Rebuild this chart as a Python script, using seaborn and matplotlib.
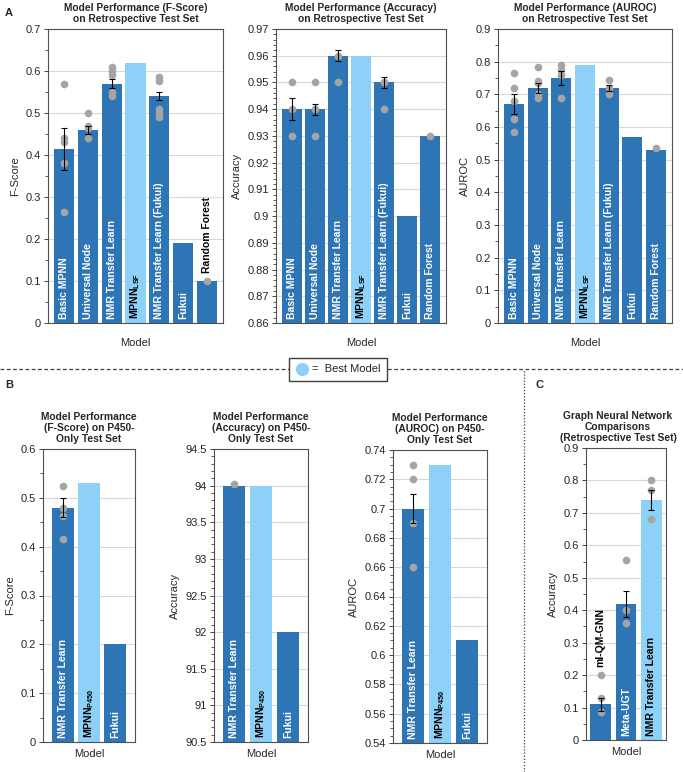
import matplotlib
matplotlib.use("Agg")
import pandas as pd
import matplotlib.pyplot as plt
import matplotlib.ticker as mticker
from matplotlib.lines import Line2D
import seaborn as sns

dark = "#2E75B6"
light = "#8DD0F8"
dot_grey = "#A5A5A5"

sns.set_theme(style="white")
plt.rcParams["font.family"] = ["Liberation Sans", "DejaVu Sans"]
plt.rcParams["mathtext.fontset"] = "custom"
plt.rcParams["mathtext.rm"] = "Liberation Sans"
plt.rcParams["mathtext.bf"] = "Liberation Sans:bold"
plt.rcParams["font.size"] = 7.5


# ---- data ----
retro_models = ["Basic MPNN", "Universal Node", "NMR Transfer Learn", r"MPNN$_\mathbf{LSF}$",
                "NMR Transfer Learn (Fukui)", "Fukui", "Random Forest"]

retro_fscore = [0.415, 0.46, 0.57, 0.62, 0.54, 0.19, 0.10]
retro_fscore_err = [0.05, 0.01, 0.01, 0, 0.01, 0, 0]
retro_fscore_dots = [[0.57, 0.44, 0.43, 0.38, 0.265], [0.50, 0.47, 0.465, 0.44],
                     [0.61, 0.60, 0.59, 0.55, 0.54], [], [0.585, 0.575, 0.51, 0.50, 0.49],
                     [], [0.10]]

retro_acc = [0.94, 0.94, 0.96, 0.96, 0.95, 0.90, 0.93]
retro_acc_err = [0.004, 0.002, 0.002, 0, 0.002, 0, 0]
retro_acc_dots = [[0.95, 0.94, 0.93], [0.95, 0.94, 0.93], [0.96, 0.95], [],
                  [0.95, 0.94], [], [0.93]]

retro_auroc = [0.67, 0.72, 0.75, 0.79, 0.72, 0.57, 0.53]
retro_auroc_err = [0.03, 0.015, 0.02, 0, 0.01, 0, 0]
retro_auroc_dots = [[0.765, 0.72, 0.68, 0.625, 0.585], [0.785, 0.74, 0.735, 0.70, 0.69],
                    [0.79, 0.775, 0.76, 0.69], [], [0.745, 0.72, 0.70], [], [0.535]]

p450_models = ["NMR Transfer Learn", r"MPNN$_\mathbf{P450}$", "Fukui"]

p450_fscore = [0.48, 0.53, 0.20]
p450_fscore_err = [0.02, 0, 0]
p450_fscore_dots = [[0.525, 0.48, 0.462, 0.415], [], []]

p450_acc = [94.0, 94.0, 92.0]
p450_acc_err = [0, 0, 0]
p450_acc_dots = [[94.02], [], []]

p450_auroc = [0.70, 0.73, 0.61]
p450_auroc_err = [0.01, 0, 0]
p450_auroc_dots = [[0.73, 0.72, 0.69, 0.66], [], []]

gnn_models = ["ml-QM-GNN", "Meta-UGT", "NMR Transfer Learn"]
gnn_acc = [0.11, 0.42, 0.74]
gnn_acc_err = [0.02, 0.04, 0.03]
gnn_acc_dots = [[0.20, 0.13, 0.085], [0.555, 0.40, 0.36], [0.80, 0.77, 0.68]]


W, H = 683, 772
fig = plt.figure(figsize=(W / 100, H / 100), dpi=100)


def px_axes(left, right, top, bottom):
    return fig.add_axes([left / W, 1 - bottom / H, (right - left) / W, (bottom - top) / H])


def draw_panel(ax, names, values, errs, dots, best, ylim, major, minor, ylabel, title,
               above=None, width=0.85, xpad=0.68, above_y=None, xpad_label=11, title_x=0.5):
    colors = {n: (light if i == best else dark) for i, n in enumerate(names)}
    sns.barplot(x=names, y=values, hue=names, order=names, hue_order=names,
                palette=colors, legend=False, width=width, saturation=1,
                edgecolor="none", ax=ax, zorder=2)

    # individual runs
    rows = []
    for n, d in zip(names, dots):
        for v in d:
            rows.append({"model": n, "value": v})
    pts = pd.DataFrame(rows)
    sns.stripplot(data=pts, x="model", y="value", order=names, color=dot_grey,
                  jitter=False, size=5.5, linewidth=0, ax=ax, zorder=3)

    xs = [i for i, e in enumerate(errs) if e > 0]
    if xs:
        ax.errorbar(xs, [values[i] for i in xs], yerr=[errs[i] for i in xs], fmt="none",
                    ecolor="black", elinewidth=0.8, capsize=2, capthick=0.8, zorder=4)

    ax.set_ylim(*ylim)
    ax.set_xlim(-xpad, len(names) - 1 + xpad)
    ax.yaxis.set_major_locator(mticker.MultipleLocator(major))
    ax.yaxis.set_minor_locator(mticker.MultipleLocator(minor))
    ax.yaxis.set_major_formatter(mticker.FuncFormatter(lambda v, p: f"{round(v, 6):g}"))
    ax.tick_params(axis="y", which="major", direction="out", length=3, width=0.7,
                   color="#404040", labelsize=8, pad=2, left=True)
    ax.tick_params(axis="y", which="minor", direction="out", length=2, width=0.6,
                   color="#404040", left=True)
    ax.set_xticks([])
    ax.yaxis.grid(True, which="major", color="#D9D9D9", lw=0.8)
    ax.set_axisbelow(True)
    for s in ax.spines.values():
        s.set_color("#505050")
        s.set_linewidth(0.8)
    ax.set_xlabel("Model", fontsize=8, labelpad=xpad_label)
    ax.set_ylabel(ylabel, fontsize=8, labelpad=4)
    ax.set_title(title, fontsize=7.4, fontweight="bold", pad=5, linespacing=1.15, x=title_x)

    y0 = ylim[0] + (ylim[1] - ylim[0]) * 0.015
    for i, n in enumerate(names):
        if above is not None and i in above:
            ax.text(i, above_y[i], n, rotation=90, ha="center", va="bottom",
                    color="black", fontsize=7.5, fontweight="bold", zorder=5)
        else:
            ax.text(i, y0, n, rotation=90, ha="center", va="bottom",
                    color=("black" if i == best else "white"), fontsize=7.5,
                    fontweight="bold", zorder=5, clip_on=True)


# ---- panel A ----
ax1 = px_axes(48, 223, 29, 323)
draw_panel(ax1, retro_models, retro_fscore, retro_fscore_err, retro_fscore_dots, 3,
           (0, 0.7), 0.1, 0.05, "F-Score",
           "Model Performance (F-Score)\non Retrospective Test Set",
           above=[6], above_y={6: 0.118})

ax2 = px_axes(276, 446, 29, 323)
draw_panel(ax2, retro_models, retro_acc, retro_acc_err, retro_acc_dots, 3,
           (0.86, 0.97), 0.01, 0.002, "Accuracy",
           "Model Performance (Accuracy)\non Retrospective Test Set")

ax3 = px_axes(498, 672, 29, 323)
draw_panel(ax3, retro_models, retro_auroc, retro_auroc_err, retro_auroc_dots, 3,
           (0, 0.9), 0.1, 0.05, "AUROC",
           "Model Performance (AUROC)\non Retrospective Test Set")

# ---- panel B ----
ax4 = px_axes(43, 135, 449, 742)
draw_panel(ax4, p450_models, p450_fscore, p450_fscore_err, p450_fscore_dots, 1,
           (0, 0.6), 0.1, 0.05, "F-Score",
           "Model Performance\n(F-Score) on P450-\nOnly Test Set", width=0.83, xpad=0.75,
           xpad_label=5)

ax5 = px_axes(214, 308, 449, 742)
draw_panel(ax5, p450_models, p450_acc, p450_acc_err, p450_acc_dots, 1,
           (90.5, 94.5), 0.5, 0.1, "Accuracy",
           "Model Performance\n(Accuracy) on P450-\nOnly Test Set", width=0.83, xpad=0.75,
           xpad_label=5)

ax6 = px_axes(393, 487, 450, 743)
draw_panel(ax6, p450_models, p450_auroc, p450_auroc_err, p450_auroc_dots, 1,
           (0.54, 0.74), 0.02, 0.005, "AUROC",
           "Model Performance\n(AUROC) on P450-\nOnly Test Set", width=0.83, xpad=0.75,
           xpad_label=5)

# ---- panel C ----
ax7 = px_axes(586, 666, 448, 740)
draw_panel(ax7, gnn_models, gnn_acc, gnn_acc_err, gnn_acc_dots, 2,
           (0, 0.9), 0.1, 0.05, "Accuracy",
           "Graph Neural Network\nComparisons\n(Retrospective Test Set)",
           above=[0], above_y={0: 0.225}, width=0.82, xpad=0.57, xpad_label=5,
           title_x=0.4)

# ---- panel letters, separators, shared legend ----
fig.text(5 / W, 1 - 13 / H, "A", fontsize=8, fontweight="bold", va="center")
fig.text(5 / W, 1 - 385 / H, "B", fontsize=8, fontweight="bold", va="center")
fig.text(536 / W, 1 - 385 / H, "C", fontsize=8, fontweight="bold", va="center")

fig.add_artist(Line2D([0, 1], [1 - 369 / H, 1 - 369 / H], transform=fig.transFigure,
                      color="#404040", lw=0.9, ls=(0, (3, 2))))
fig.add_artist(Line2D([524 / W, 524 / W], [0, 1 - 369 / H], transform=fig.transFigure,
                      color="#404040", lw=0.9, ls=(0, (1, 1.5))))

handle = Line2D([], [], marker="o", ls="none", markersize=8.5, color=light)
fig.legend(handles=[handle], labels=["=  Best Model"], loc="center",
           bbox_to_anchor=(338 / W, 1 - 369.5 / H), frameon=True, fancybox=False,
           edgecolor="#404040", facecolor="white", framealpha=1, fontsize=8,
           handletextpad=0.3, borderpad=0.55, handlelength=1.2)

plt.savefig("out.png", dpi=100)
plt.close()
